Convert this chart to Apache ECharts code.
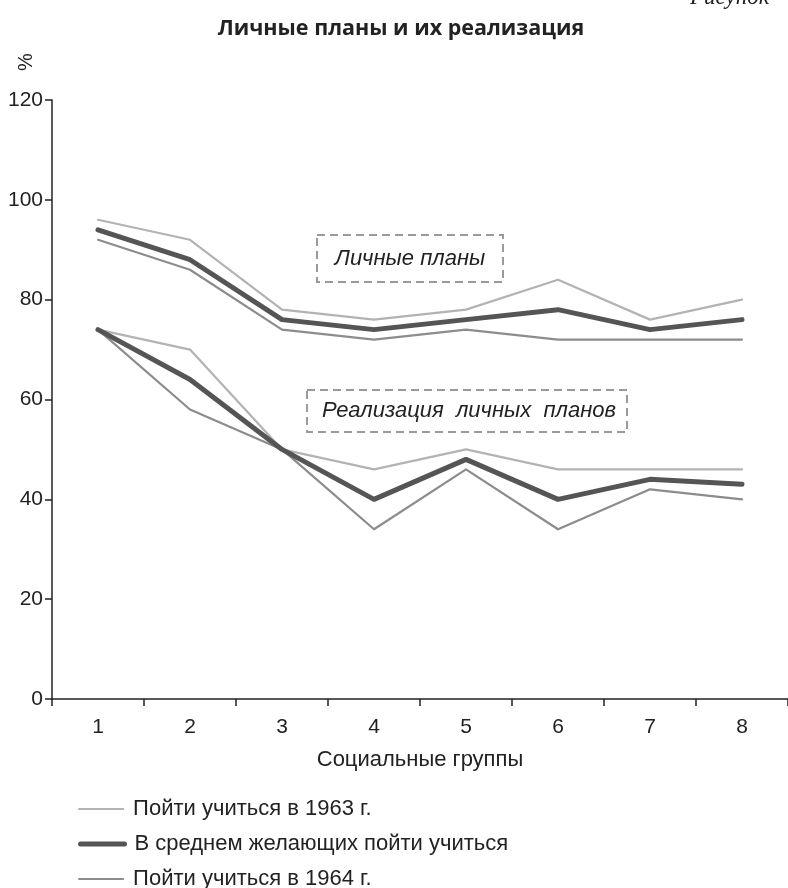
<!DOCTYPE html>
<html>
<head>
<meta charset="utf-8">
<script src="https://cdn.jsdelivr.net/npm/echarts@6/dist/echarts.min.js"></script>
<style>html,body{margin:0;padding:0;background:#fff}#c{width:788px;height:888px}</style>
</head>
<body>
<div id="c"></div>
<script>
var categories = ['1','2','3','4','5','6','7','8'];
var yTicks = [0, 20, 40, 60, 80, 100, 120];
var seriesNames = ['Пойти учиться в 1963 г.', 'В среднем желающих пойти учиться', 'Пойти учиться в 1964 г.'];
var plans1963 = [96, 92, 78, 76, 78, 84, 76, 80];
var plansAvg = [94, 88, 76, 74, 76, 78, 74, 76];
var plans1964 = [92, 86, 74, 72, 74, 72, 72, 72];
var real1963 = [74, 70, 50, 46, 50, 46, 46, 46];
var realAvg = [74, 64, 50, 40, 48, 40, 44, 43];
var real1964 = [74, 58, 50, 34, 46, 34, 42, 40];

var FONT = '"Liberation Sans", Arial, sans-serif';
var styles = [
  {color: '#b3b3b3', width: 2.2},
  {color: '#555555', width: 5},
  {color: '#8c8c8c', width: 2.2}
];
function mk(name, data, st, z) {
  return {
    name: name, type: 'line', data: data, symbol: 'none', showSymbol: false, z: z,
    lineStyle: {color: st.color, width: st.width, join: 'round', cap: 'round'},
    itemStyle: {color: st.color}
  };
}
function lg(name, st, top) {
  return {
    orient: 'vertical', left: 78, top: top, padding: 0, itemWidth: 44, itemHeight: 14, itemGap: 10,
    data: [name], selectedMode: false,
    itemStyle: {opacity: 0},
    lineStyle: {color: st.color, width: st.width, cap: 'round', opacity: 1},
    textStyle: {fontFamily: FONT, fontSize: 22, color: '#222', padding: [0, 0, 0, 5]}
  };
}
var chart = echarts.init(document.getElementById('c'), null, {renderer: 'canvas'});
chart.setOption({
  animation: false,
  backgroundColor: '#ffffff',
  title: {
    text: 'Личные планы и их реализация',
    left: 396, top: 13, textAlign: 'center',
    textStyle: {fontFamily: '"Open Sans", sans-serif', fontWeight: 'bold', fontSize: 21.5, color: '#222'}
  },
  grid: {left: 52, top: 100, width: 742, height: 599},
  legend: [lg(seriesNames[0], styles[0], 798), lg(seriesNames[1], styles[1], 833), lg(seriesNames[2], styles[2], 868)],
  xAxis: {
    type: 'category', data: categories, boundaryGap: true,
    name: 'Социальные группы', nameLocation: 'middle', nameGap: 50,
    nameTextStyle: {fontFamily: FONT, fontSize: 22, color: '#222'},
    axisLine: {lineStyle: {color: '#222', width: 1.5}},
    axisTick: {show: true, length: 7, lineStyle: {color: '#222', width: 1.5}},
    axisLabel: {fontFamily: FONT, fontSize: 21, color: '#222', margin: 18},
    splitLine: {show: false}
  },
  yAxis: {
    type: 'value', min: 0, max: 120, interval: 20,
    axisLine: {show: true, lineStyle: {color: '#222', width: 1.5}},
    axisTick: {show: true, length: 7, lineStyle: {color: '#222', width: 1.5}},
    axisLabel: {fontFamily: FONT, fontSize: 21, color: '#222', margin: 9,
      formatter: function (v) { return yTicks.indexOf(v) >= 0 ? String(v) : ''; }},
    splitLine: {show: false}
  },
  graphic: [
    {type: 'text', left: 690, top: -14, style: {text: 'Рисунок', fontFamily: '"Liberation Serif", serif', fontStyle: 'italic', fontSize: 23, fill: '#222'}},
    {type: 'text', x: 26, y: 62, rotation: Math.PI / 2, style: {text: '%', fontFamily: FONT, fontSize: 20, fill: '#222', textAlign: 'center', textVerticalAlign: 'middle'}},
    {type: 'rect', shape: {x: 317, y: 235, width: 186, height: 47}, style: {fill: 'none', stroke: '#9a9a9a', lineWidth: 2, lineDash: [8, 5]}},
    {type: 'text', x: 410, y: 259, style: {text: 'Личные планы', fontFamily: FONT, fontStyle: 'italic', fontSize: 22, fill: '#222', textAlign: 'center', textVerticalAlign: 'middle'}},
    {type: 'rect', shape: {x: 307, y: 390, width: 320, height: 42}, style: {fill: 'none', stroke: '#9a9a9a', lineWidth: 2, lineDash: [8, 5]}},
    {type: 'text', x: 469, y: 411, style: {text: 'Реализация  личных  планов', fontFamily: FONT, fontStyle: 'italic', fontSize: 22, fill: '#222', textAlign: 'center', textVerticalAlign: 'middle'}}
  ],
  series: [
    mk(seriesNames[0], plans1963, styles[0], 2),
    mk(seriesNames[2], plans1964, styles[2], 2),
    mk(seriesNames[1], plansAvg, styles[1], 3),
    mk(seriesNames[0], real1963, styles[0], 2),
    mk(seriesNames[2], real1964, styles[2], 2),
    mk(seriesNames[1], realAvg, styles[1], 3)
  ]
});
</script>
</body>
</html>
